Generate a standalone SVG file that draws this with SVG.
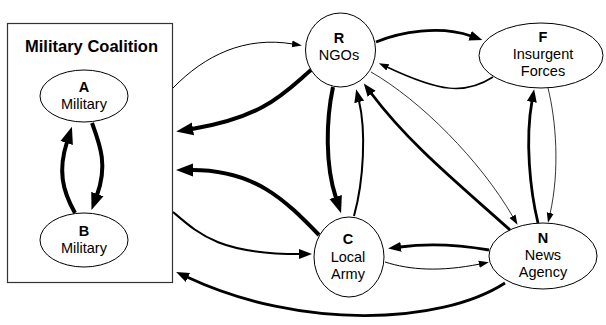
<svg xmlns="http://www.w3.org/2000/svg" width="606" height="325" viewBox="0 0 606 325">
<style>
.node{fill:#fff;stroke:#000;stroke-width:1}
.t{font-family:"Liberation Sans",Arial,sans-serif;font-size:14.5px;text-anchor:middle;fill:#000}
.b{font-weight:bold}
.e{fill:none;stroke:#000}
.w4{stroke-width:4;marker-end:url(#big)}
.w3{stroke-width:2.8;marker-end:url(#mid)}
.w2{stroke-width:2;marker-end:url(#mid)}
.w1{stroke-width:1;marker-end:url(#sml)}
</style>
<defs>
<marker id="big" markerUnits="userSpaceOnUse" markerWidth="18" markerHeight="14" refX="1" refY="7" orient="auto" viewBox="0 0 18 14"><path d="M0,0.5 L17,7 L0,13.5 z" fill="#000"/></marker>
<marker id="mid" markerUnits="userSpaceOnUse" markerWidth="14" markerHeight="11" refX="1" refY="5.5" orient="auto" viewBox="0 0 14 11"><path d="M0,0.5 L13,5.5 L0,10.5 z" fill="#000"/></marker>
<marker id="sml" markerUnits="userSpaceOnUse" markerWidth="11" markerHeight="8" refX="1" refY="4" orient="auto" viewBox="0 0 11 8"><path d="M0,0.5 L10,4 L0,7.5 z" fill="#000"/></marker>
</defs>
<g id="coalition">
<rect x="7.5" y="23.5" width="165" height="259" fill="#fff" stroke="#333" stroke-width="1.2"/>
<text x="91.5" y="52" class="t b" style="font-size:16.5px">Military Coalition</text>
</g>
<g id="A">
<ellipse class="node" cx="84" cy="96" rx="44" ry="26"/>
<text x="84" y="92" class="t b">A</text>
<text x="84" y="109" class="t">Military</text>
</g>
<g id="B">
<ellipse class="node" cx="84" cy="240" rx="44" ry="27"/>
<text x="84" y="236" class="t b">B</text>
<text x="84" y="253" class="t">Military</text>
</g>
<g id="R">
<ellipse class="node" cx="340.5" cy="50" rx="35" ry="37"/>
<text x="339" y="43" class="t b">R</text>
<text x="339" y="60" class="t">NGOs</text>
</g>
<g id="F">
<ellipse class="node" cx="541" cy="55.5" rx="62" ry="32.5"/>
<text x="543" y="42" class="t b">F</text>
<text x="543" y="59" class="t">Insurgent</text>
<text x="543" y="76" class="t">Forces</text>
</g>
<g id="C">
<ellipse class="node" cx="349" cy="257" rx="35" ry="40"/>
<text x="348" y="244" class="t b">C</text>
<text x="348" y="262" class="t">Local</text>
<text x="348" y="279" class="t">Army</text>
</g>
<g id="N">
<ellipse class="node" cx="543" cy="256" rx="54" ry="33"/>
<text x="543" y="243" class="t b">N</text>
<text x="543" y="260" class="t">News</text>
<text x="543" y="277" class="t">Agency</text>
</g>
<g id="connectors">
<path class="e w4" d="M92,123 C100,145 108,165 97,195"/>
<path class="e w4" d="M75,213 C62,190 58,170 67,142"/>
<path class="e w1" d="M173,88 C205,55 245,36 293,44"/>
<path class="e w4" d="M311,70 C285,92 265,117 192,129"/>
<path class="e w4" d="M319,235 C285,200 255,170 192,170"/>
<path class="e w2" d="M173,212 C200,235 220,254 300,254"/>
<path class="e w3" d="M505,283 C440,325 300,330 187,277"/>
<path class="e w4" d="M333,87 C326,120 325,165 336,198"/>
<path class="e w2" d="M354,216 C364,180 366,130 359,101"/>
<path class="e w3" d="M376,42 C400,32 440,25 471,36"/>
<path class="e" style="stroke-width:1.5;marker-end:url(#sml)" d="M493,77 C465,95 440,92 387,67"/>
<path class="e w3" d="M510,230 C460,185 410,145 371,93"/>
<path class="e" style="stroke-width:0.8;marker-end:url(#sml)" d="M371,72 C420,100 480,160 513,217"/>
<path class="e w3" d="M538,223 C530,190 525,140 532,101"/>
<path class="e" style="stroke-width:0.8;marker-end:url(#sml)" d="M548,88 C556,120 560,170 550,214"/>
<path class="e w3" d="M489,250 C460,245 430,243 400,247"/>
<path class="e w1" d="M385,262 C410,270 440,272 480,264"/>
</g>
</svg>
